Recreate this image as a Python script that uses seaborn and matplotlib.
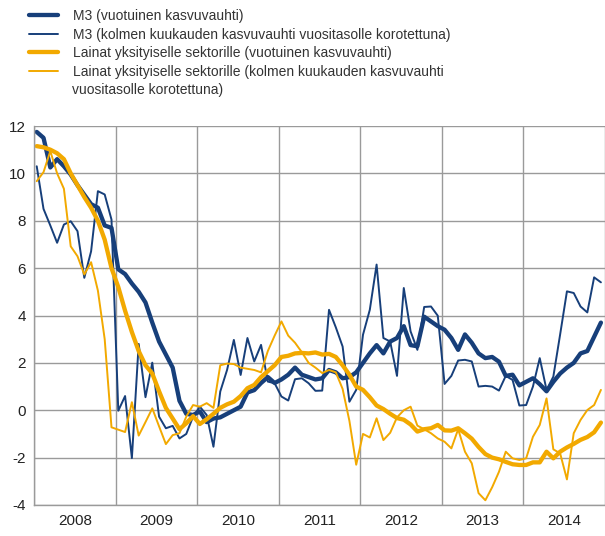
import numpy as np
import pandas as pd
import seaborn as sns
import matplotlib.pyplot as plt

# monthly observations, Jan 2008 .. Dec 2014
years = ["2008", "2009", "2010", "2011", "2012", "2013", "2014"]

m3_annual = [
    11.75, 11.5, 10.25, 10.6, 10.3, 9.95, 9.5, 9.1, 8.7, 8.55, 7.8, 7.7,
    5.95, 5.75, 5.35, 5.0, 4.55, 3.7, 2.9, 2.35, 1.8, 0.4, -0.15, -0.2,
    -0.05, -0.5, -0.35, -0.3, -0.15, 0.0, 0.15, 0.75, 0.85, 1.15, 1.4, 1.15,
    1.3, 1.5, 1.8, 1.5, 1.4, 1.3, 1.35, 1.7, 1.6, 1.35, 1.4, 1.6,
    2.0, 2.4, 2.75, 2.4, 2.9, 3.05, 3.55, 2.75, 2.7, 3.95, 3.75, 3.55,
    3.4, 3.05, 2.55, 3.2, 2.85, 2.4, 2.2, 2.25, 2.05, 1.45, 1.5, 1.05,
    1.2, 1.35, 1.1, 0.8, 1.2, 1.55, 1.8, 2.0, 2.4, 2.5, 3.1, 3.7,
]

m3_3m = [
    10.3, 8.5, 7.8, 7.07, 7.84, 7.98, 7.56, 5.59, 6.71, 9.25, 9.11, 8.05,
    -0.02, 0.6, -2.02, 2.8, 0.55, 2.01, -0.27, -0.76, -0.66, -1.19, -1.0, -0.27,
    0.15, -0.2, -1.54, 0.79, 1.7, 2.97, 1.49, 3.05, 2.06, 2.76, 1.21, 1.14,
    0.58, 0.41, 1.31, 1.35, 1.14, 0.82, 0.83, 4.24, 3.5, 2.69, 0.36, 0.86,
    3.19, 4.24, 6.15, 3.05, 2.9, 1.45, 5.16, 3.33, 2.55, 4.36, 4.38, 3.99,
    1.11, 1.45, 2.1, 2.13, 2.06, 1.0, 1.03, 1.0, 0.83, 1.45, 1.28, 0.2,
    0.22, 1.0, 2.2, 0.86, 1.42, 3.2, 5.02, 4.95, 4.38, 4.13, 5.61, 5.4,
]

loans_annual = [
    11.15, 11.1, 11.0, 10.85, 10.6, 10.0, 9.5, 9.0, 8.55, 8.0, 7.2, 6.0,
    5.2, 4.2, 3.3, 2.5, 1.9, 1.55, 0.8, 0.1, -0.35, -0.8, -0.55, -0.25,
    -0.58, -0.38, -0.15, 0.1, 0.25, 0.36, 0.6, 0.93, 1.07, 1.4, 1.65, 1.9,
    2.25, 2.3, 2.4, 2.42, 2.4, 2.44, 2.35, 2.38, 2.25, 1.9, 1.5, 1.0,
    0.86, 0.55, 0.2, 0.05, -0.15, -0.33, -0.4, -0.6, -0.9, -0.8, -0.76, -0.62,
    -0.85, -0.86, -0.76, -0.97, -1.2, -1.55, -1.85, -2.0, -2.07, -2.18, -2.28, -2.31,
    -2.31, -2.2, -2.2, -1.75, -2.03, -1.75, -1.57, -1.42, -1.25, -1.13, -0.93, -0.52,
]

loans_3m = [
    9.67, 10.05, 10.94, 10.0, 9.35, 6.92, 6.5, 5.73, 6.25, 5.05, 3.0, -0.72,
    -0.82, -0.92, 0.34, -1.07, -0.5, 0.08, -0.68, -1.43, -1.05, -0.97, -0.27, 0.22,
    0.15, 0.3, 0.1, 1.9, 1.97, 1.95, 1.8, 1.75, 1.7, 1.6, 2.5, 3.15,
    3.75, 3.15, 2.85, 2.45, 2.0, 1.8, 1.57, 1.7, 1.6, 0.9, -0.45, -2.3,
    -1.0, -1.15, -0.34, -1.26, -0.95, -0.3, 0.0, 0.15, -0.65, -0.8, -0.97, -1.19,
    -1.33, -1.61, -0.8, -1.75, -2.24, -3.5, -3.8, -3.25, -2.6, -1.75, -2.03, -2.1,
    -2.03, -1.12, -0.62, 0.5, -1.65, -1.82, -2.92, -0.97, -0.41, 0.01, 0.22, 0.86,
]

labels = [
    "M3 (vuotuinen kasvuvauhti)",
    "M3 (kolmen kuukauden kasvuvauhti vuositasolle korotettuna)",
    "Lainat yksityiselle sektorille (vuotuinen kasvuvauhti)",
    "Lainat yksityiselle sektorille (kolmen kuukauden kasvuvauhti",
]
label_tail = "vuositasolle korotettuna)"

NAVY = "#173f7a"
GOLD = "#f2a900"
GRID = "#9a9a9a"
TEXT = "#333333"

sns.set_style("white")
plt.rcParams["font.family"] = ["Liberation Sans", "DejaVu Sans"]
plt.rcParams["axes.unicode_minus"] = False

month = np.arange(len(m3_annual))
df = pd.DataFrame({
    "month": month,
    "m3_annual": m3_annual,
    "m3_3m": m3_3m,
    "loans_annual": loans_annual,
    "loans_3m": loans_3m,
})

fig = plt.figure(figsize=(6.05, 5.36), dpi=100)
ax = fig.add_axes([34 / 605, 31 / 536, 571 / 605, 379 / 536])

series = [
    ("m3_annual", NAVY, 3.1),
    ("m3_3m", NAVY, 1.4),
    ("loans_annual", GOLD, 3.1),
    ("loans_3m", GOLD, 1.4),
]
for (col, color, lw), lab in zip(series, labels):
    sns.lineplot(data=df, x="month", y=col, ax=ax, color=color,
                 linewidth=lw, label=lab, legend=False)

ax.set_xlim(-0.4, 83.6)
ax.set_ylim(-4, 12)
ax.set_yticks(range(-4, 13, 2))
ax.set_xticks([12 * k - 0.4 for k in range(8)])
ax.set_xticklabels([])
ax.set_xticks([12 * k + 5.6 for k in range(7)], minor=True)
ax.set_xticklabels(years, minor=True)
ax.set_xlabel("")
ax.set_ylabel("")

ax.grid(True, which="major", color=GRID, linewidth=1)
ax.set_axisbelow(True)
ax.tick_params(axis="x", which="major", length=5, color=GRID, width=1)
ax.tick_params(axis="x", which="minor", length=0, pad=6.5, labelsize=11,
               labelcolor="#222222")
ax.tick_params(axis="y", length=2.5, color=GRID, width=1, pad=3.5,
               labelsize=11, labelcolor="#222222")

for side in ["top", "right"]:
    ax.spines[side].set_visible(False)
for side in ["left", "bottom"]:
    ax.spines[side].set_color(GRID)
    ax.spines[side].set_linewidth(1)

ax.legend(loc="upper left", bbox_to_anchor=(29 / 605, 1 - 9 / 536),
          bbox_transform=fig.transFigure, frameon=False, fontsize=10,
          borderpad=0, borderaxespad=0, handlelength=2.1,
          handletextpad=1.05, labelspacing=0.33, labelcolor=TEXT)
# second line of the last legend label
fig.text(72.5 / 605, 1 - 90 / 536, label_tail, fontsize=10, color=TEXT,
         ha="left", va="center")

fig.savefig("out.png", dpi=100)
